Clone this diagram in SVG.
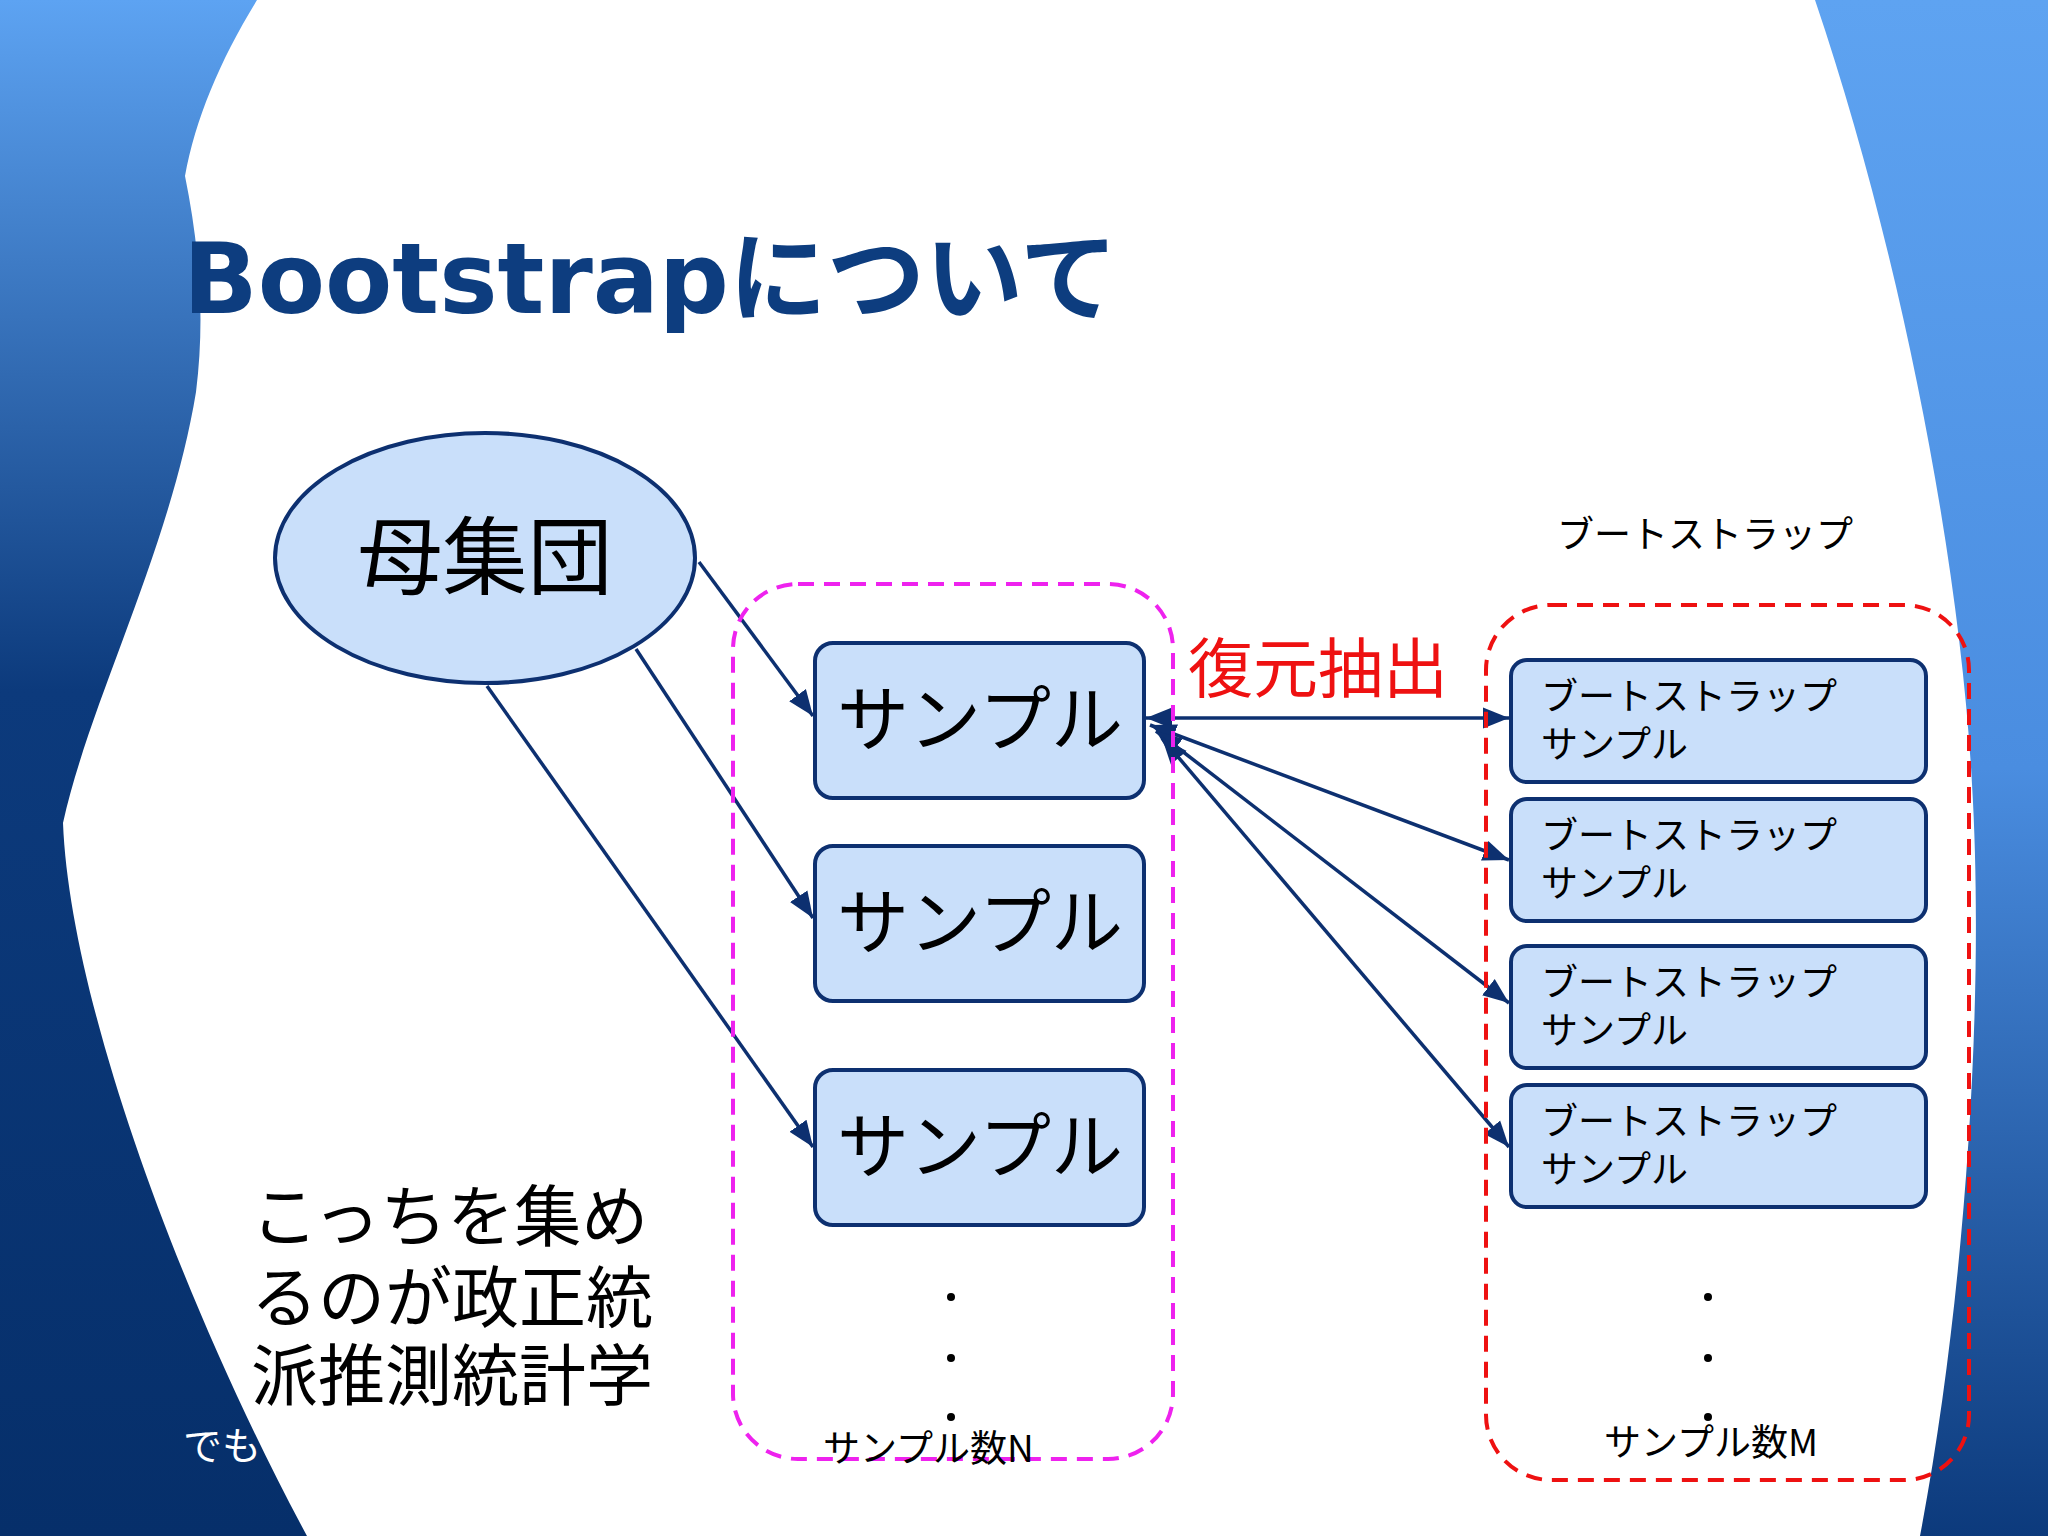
<svg xmlns="http://www.w3.org/2000/svg" width="2048" height="1536" viewBox="0 0 2048 1536">
<defs>
<linearGradient id="lg" x1="0" y1="0" x2="0" y2="1"><stop offset="0" stop-color="#5da3f2"/><stop offset="0.45" stop-color="#0c3a7c"/><stop offset="1" stop-color="#062f6a"/></linearGradient>
<linearGradient id="rg" x1="0" y1="0" x2="0" y2="1"><stop offset="0" stop-color="#5ea3f1"/><stop offset="0.5" stop-color="#4a8de0"/><stop offset="1" stop-color="#0c3a7c"/></linearGradient>
<marker id="ah2" viewBox="0 0 10 10" refX="10" refY="5" markerWidth="26" markerHeight="26" orient="auto-start-reverse" markerUnits="userSpaceOnUse"><path d="M0,1 L10,5 L0,9 z" fill="#0d3070"/></marker>
<style>
.j{font-family:"Noto Sans CJK JP","Noto Sans",sans-serif}
.box{fill:#c9dffa;stroke:#0d3070;stroke-width:4}
.c{stroke:#0d3070;stroke-width:3.5;fill:none}
.bt{font-size:37px;fill:#000}
.big{font-size:72px;fill:#000;text-anchor:middle}
</style>
</defs>
<rect width="2048" height="1536" fill="#fff"/>
<path d="M0,0 L257,0 C220,60 195,120 185,176 C200,250 205,320 196,392 C170,550 90,700 63,823 C70,1000 180,1300 307,1536 L0,1536 z" fill="url(#lg)"/>
<path d="M1815,0 L2048,0 L2048,1536 L1920,1536 C1965,1300 1985,1000 1972,784 C1960,560 1900,250 1815,0 z" fill="url(#rg)"/>
<text x="183" y="313" font-family="'DejaVu Sans','Noto Sans CJK JP',sans-serif" font-weight="bold" font-size="98" fill="#0d3d7f">Bootstrapについて</text>
<text class="j" x="183" y="1460" font-size="39" fill="#fff">でも</text>
<g id="connectors">
<line class="c" x1="699" y1="562" x2="813" y2="716" marker-end="url(#ah2)"/>
<line class="c" x1="636" y1="649" x2="813" y2="918" marker-end="url(#ah2)"/>
<line class="c" x1="487" y1="686" x2="813" y2="1147" marker-end="url(#ah2)"/>
<line class="c" x1="1146" y1="718" x2="1509" y2="718" marker-start="url(#ah2)" marker-end="url(#ah2)"/>
<line class="c" x1="1150" y1="725" x2="1509" y2="860" marker-start="url(#ah2)" marker-end="url(#ah2)"/>
<line class="c" x1="1156" y1="731" x2="1509" y2="1003" marker-start="url(#ah2)" marker-end="url(#ah2)"/>
<line class="c" x1="1162" y1="738" x2="1509" y2="1147" marker-start="url(#ah2)" marker-end="url(#ah2)"/>
</g>
<g id="population"><ellipse cx="485" cy="558" rx="210" ry="125" class="box"/><text class="j" x="485" y="588" font-size="85" text-anchor="middle">母集団</text></g>
<g id="groupN"><rect x="733" y="584" width="440" height="875" rx="65" fill="none" stroke="#ee22ee" stroke-width="4" stroke-dasharray="16,10"/>
<text class="j" x="823" y="1462" font-size="37">サンプル数N</text>
<circle cx="951" cy="1297" r="4"/><circle cx="951" cy="1358" r="4"/><circle cx="951" cy="1417" r="4"/></g>
<g id="s1"><rect x="815" y="643" width="329" height="155" rx="18" class="box"/><text class="j big" x="980" y="745">サンプル</text></g>
<g id="s2"><rect x="815" y="846" width="329" height="155" rx="18" class="box"/><text class="j big" x="980" y="948">サンプル</text></g>
<g id="s3"><rect x="815" y="1070" width="329" height="155" rx="18" class="box"/><text class="j big" x="980" y="1172">サンプル</text></g>
<text class="j" x="1188" y="692" font-size="65" fill="#ee1111">復元抽出</text>
<g id="groupM"><rect x="1486" y="605" width="483" height="875" rx="65" fill="none" stroke="#ee1111" stroke-width="4" stroke-dasharray="16,10"/>
<text class="j" x="1557" y="548" font-size="37">ブートストラップ</text>
<text class="j" x="1604" y="1456" font-size="37">サンプル数M</text>
<circle cx="1708" cy="1297" r="4"/><circle cx="1708" cy="1358" r="4"/><circle cx="1708" cy="1417" r="4"/></g>
<g id="b1"><rect x="1511" y="660" width="415" height="122" rx="16" class="box"/><text class="j bt" x="1541" y="710">ブートストラップ</text><text class="j bt" x="1541" y="758">サンプル</text></g>
<g id="b2"><rect x="1511" y="799" width="415" height="122" rx="16" class="box"/><text class="j bt" x="1541" y="849">ブートストラップ</text><text class="j bt" x="1541" y="897">サンプル</text></g>
<g id="b3"><rect x="1511" y="946" width="415" height="122" rx="16" class="box"/><text class="j bt" x="1541" y="996">ブートストラップ</text><text class="j bt" x="1541" y="1044">サンプル</text></g>
<g id="b4"><rect x="1511" y="1085" width="415" height="122" rx="16" class="box"/><text class="j bt" x="1541" y="1135">ブートストラップ</text><text class="j bt" x="1541" y="1183">サンプル</text></g>
<g id="note" class="j" font-size="67"><text x="251" y="1241">こっちを集め</text><text x="251" y="1322">るのが政正統</text><text x="251" y="1400">派推測統計学</text></g>
</svg>
